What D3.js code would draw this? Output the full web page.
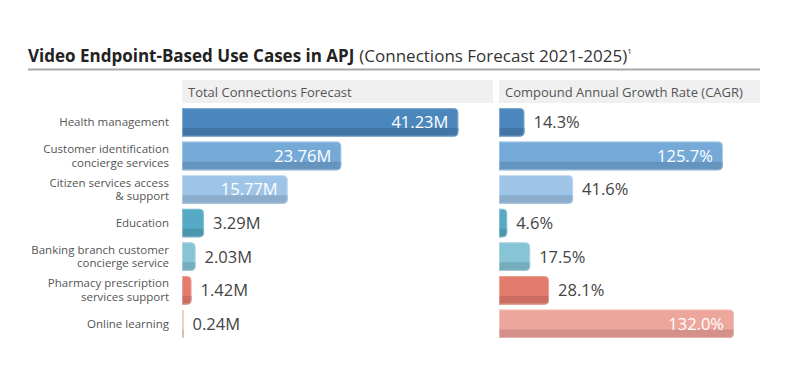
<!DOCTYPE html>
<html>
<head>
<meta charset="utf-8">
<script src="https://cdn.jsdelivr.net/npm/d3@7"></script>
<style>
  html, body { margin: 0; padding: 0; background: #fff; }
  svg { display: block; font-family: "Open Sans", "Noto Sans", sans-serif; }
</style>
</head>
<body>
<svg id="chart" width="800" height="379"></svg>
<script>
// ---- data ----
const categories = [
  ["Health management"],
  ["Customer identification", "concierge services"],
  ["Citizen services access", "& support"],
  ["Education"],
  ["Banking branch customer", "concierge service"],
  ["Pharmacy prescription", "services support"],
  ["Online learning"]
];
const connections = [41.23, 23.76, 15.77, 3.29, 2.03, 1.42, 0.24]; // millions
const cagr = [14.3, 125.7, 41.6, 4.6, 17.5, 28.1, 132.0];           // percent
const colorsTop = ["#4b87bd", "#74a9d8", "#9ec4e7", "#56aac5", "#86c4d6", "#e47c6e", "#eda69c"];
const colorsBottom = ["#4175a6", "#6595bf", "#8badcb", "#4b95ad", "#76adbd", "#c96d61", "#d49189"];
const panelTitles = ["Total Connections Forecast", "Compound Annual Growth Rate (CAGR)"];
const titleBold = "Video Endpoint-Based Use Cases in APJ";
const titleNormal = "(Connections Forecast 2021-2025)";

const svg = d3.select("#chart");
const keys = categories.map((d, i) => i);

const y = d3.scaleBand().domain(keys).range([105.5, 340.5]).paddingInner(0.15).paddingOuter(0.075);

const panels = [
  { x0: 182, x1: 493, values: connections, max: 46.4, fmt: v => v.toFixed(2) + "M" },
  { x0: 499, x1: 760, values: cagr, max: 146.6, fmt: v => v.toFixed(1) + "%" }
];

// title
const title = svg.append("text").attr("x", 28).attr("y", 62).attr("fill", "#222");
title.append("tspan").attr("font-weight", 700).attr("font-size", 17).text(titleBold);
title.append("tspan").attr("font-size", 17).attr("fill", "#333").attr("dx", 5).text(titleNormal);
title.append("tspan").attr("font-size", 8).attr("dy", -8).attr("fill", "#333").text("1");
svg.append("line").attr("x1", 28).attr("x2", 760).attr("y1", 69.5).attr("y2", 69.5)
  .attr("stroke", "#a8a8a8").attr("stroke-width", 2);

// category labels
const lab = svg.append("g");
categories.forEach((lines, i) => {
  const cy = y(i) + y.bandwidth() / 2;
  const t = lab.append("text").attr("text-anchor", "end").attr("font-size", 11.5).attr("fill", "#555");
  const n = lines.length;
  lines.forEach((ln, j) => {
    t.append("tspan").attr("x", 169).attr("y", cy + (j - (n - 1) / 2) * 13.5 + 4).text(ln);
  });
});

function barPath(x0, y0, w, h, r) {
  r = Math.min(r, w, h / 2);
  return `M${x0},${y0}H${x0 + w - r}Q${x0 + w},${y0} ${x0 + w},${y0 + r}V${y0 + h - r}Q${x0 + w},${y0 + h} ${x0 + w - r},${y0 + h}H${x0}Z`;
}
function bandPath(x0, y0, w, h, bh, r) {
  r = Math.min(r, w, h / 2);
  const yb = y0 + h - bh;
  return `M${x0},${yb}H${x0 + w}V${y0 + h - r}Q${x0 + w},${y0 + h} ${x0 + w - r},${y0 + h}H${x0}Z`;
}

panels.forEach((p, pi) => {
  const x = d3.scaleLinear().domain([0, p.max]).range([p.x0, p.x1]);
  const g = svg.append("g");
  // header
  g.append("rect").attr("x", p.x0).attr("y", 80).attr("width", p.x1 - p.x0).attr("height", 23).attr("fill", "#f0f0f0");
  g.append("text").attr("x", p.x0 + 6).attr("y", 96.5).attr("font-size", 13).attr("fill", "#555").text(panelTitles[pi]);

  p.values.forEach((v, i) => {
    const w = x(v) - x(0);
    const y0 = y(i), h = y.bandwidth();
    g.append("path").attr("d", barPath(x(0), y0, w, h, 5)).attr("fill", colorsTop[i]);
    g.append("path").attr("d", bandPath(x(0), y0, w, h, 8.5, 5)).attr("fill", colorsBottom[i]);
    g.append("path").attr("d", barPath(x(0) + 0.5, y0 + 0.5, Math.max(w - 1, 0.5), h - 1, 4.5))
      .attr("fill", "none").attr("stroke", "#ffffff").attr("stroke-opacity", 0.3).attr("stroke-width", 1);
    const inside = w > 90;
    g.append("text")
      .attr("x", inside ? x(v) - 10 : x(v) + 9)
      .attr("y", y0 + h / 2 + 6)
      .attr("text-anchor", inside ? "end" : "start")
      .attr("font-size", 16.5)
      .attr("fill", inside ? "#fff" : "#444")
      .text(p.fmt(v));
  });
});
</script>
</body>
</html>
